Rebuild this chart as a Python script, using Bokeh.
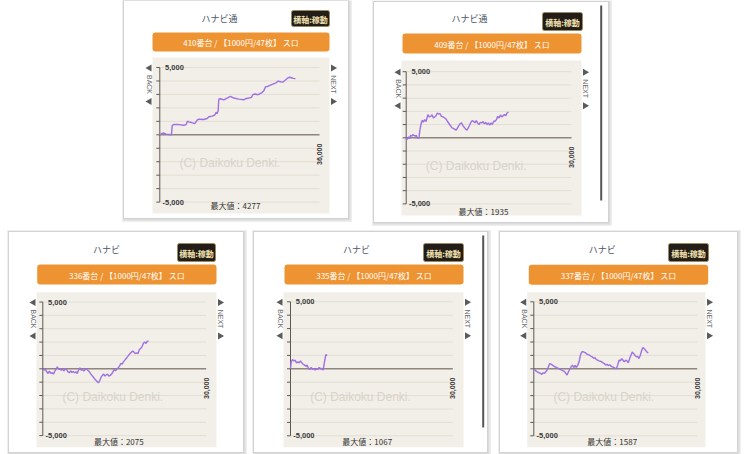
import math
from bokeh.plotting import figure
from bokeh.models import Range1d
from bokeh.core.properties import value
from bokeh.embed import file_html
from bokeh.resources import INLINE

# ---------------- data ----------------
machine_names = ["ハナビ通", "ハナビ通", "ハナビ", "ハナビ", "ハナビ"]
unit_numbers = ["410番台", "409番台", "336番台", "335番台", "337番台"]
rate_label = "【1000円/47枚】 スロ"
max_values = [4277, 1935, 2075, 1067, 1587]
x_max_values = [36000, 30000, 30000, 30000, 30000]
x_max_labels = ["36,000", "30,000", "30,000", "30,000", "30,000"]
grid_values = [-5000, -4000, -3000, -2000, -1000, 0, 1000, 2000, 3000, 4000, 5000]
y_tick_values = [5000, -5000]
y_tick_labels = ["5,000", "-5,000"]
button_label = "横軸:稼動"
watermark_text = "(C) Daikoku Denki."
max_prefix = "最大値："

games_410 = [0, 500, 900, 1430, 2030, 2630, 2800, 3160, 4280, 5410, 5940, 6240, 6540, 7140, 7890, 8420,
             8790, 9920, 10670, 11050, 11800, 12400, 12700, 12930, 13150, 13300, 13680, 14430, 15180, 15930,
             16690, 17810, 18940, 19320, 20070, 20670, 20970, 21420, 22170, 22920, 23450, 23830, 24430, 25330,
             26230, 26680, 27210, 27730, 28190, 28710, 29240, 29690, 30060, 30590]
coins_410 = [0, 100, 130, 50, 25, 0, 700, 760, 760, 710, 760, 1010, 960, 910, 830, 1090,
             1160, 1140, 1210, 1340, 1390, 1470, 1670, 1590, 1770, 2650, 2680, 2600, 2730, 2850,
             2730, 2650, 2600, 2680, 2730, 2780, 2980, 3030, 2980, 3110, 3280, 3560, 3610, 3740,
             3860, 3990, 3940, 3910, 4040, 4190, 4277, 4240, 4190, 4170]

games_409 = [0, 183, 426, 609, 791, 1034, 1217, 1400, 1643, 1826, 2008, 2312, 2495, 2738, 2921, 3103,
             3347, 3590, 3773, 3955, 4199, 4442, 4685, 4929, 5172, 5416, 5659, 5902, 6146, 6389, 6754,
             6998, 7302, 7606, 7971, 8336, 8702, 9067, 9310, 9553, 9797, 10040, 10284, 10527, 10770,
             11014, 11257, 11501, 11744, 11987, 12231, 12474, 12718, 12961, 13204, 13448, 13691, 13935,
             14178, 14421, 14665, 14908, 15152, 15395, 15638, 15882, 16125, 16369, 16612, 16855, 17099,
             17342, 17586, 17829, 18072, 18316, 18559]
coins_409 = [0, -125, 75, -75, 175, 125, 250, 175, 125, 200, -25, -25, 625, 1125, 1325, 1175,
             1375, 1225, 1500, 1750, 1575, 1625, 1750, 1500, 1575, 1675, 1875, 1800, 1825, 1625, 1575,
             1500, 1375, 1175, 950, 750, 675, 575, 750, 925, 1075, 1125, 925, 800, 675,
             575, 750, 950, 1175, 1300, 1250, 1125, 1300, 1125, 1000, 1175, 1125, 1225,
             1050, 1175, 1000, 1125, 950, 1125, 1000, 1250, 1250, 1375, 1625, 1500, 1725,
             1575, 1675, 1750, 1675, 1875, 1935]

games_336 = [0, 243, 486, 728, 971, 1214, 1457, 1700, 1942, 2185, 2428, 2671, 2914, 3156, 3399, 3642,
             3885, 4128, 4370, 4613, 4856, 5099, 5342, 5584, 5827, 6070, 6313, 6556, 6798, 7041, 7284,
             7527, 7770, 8012, 8255, 8498, 8741, 8984, 9226, 9469, 9712, 9955, 10198, 10440, 10683,
             10926, 11169, 11412, 11654, 11897, 12140, 12383, 12626, 12868, 13111, 13354, 13597, 13840,
             14082, 14325, 14568, 14811, 15054, 15296, 15539, 15782, 16025, 16268, 16510, 16753, 16996,
             17239, 17482, 17724, 17967, 18210, 18453, 18696, 18938, 19181, 19424]
coins_336 = [0, -100, -50, -224, -349, -174, -349, -274, -398, -199, -25, 149, -50, 0, -100, -50,
             -149, 0, -50, -224, -299, -149, -274, -199, -299, -224, -349, -100, 75, -100, -50,
             -174, -50, 0, -100, -199, -349, -473, -598, -722, -847, -946, -1046, -896, -647,
             -498, -398, -548, -448, -398, -548, -498, -398, -224, -50, -149, 0, 75,
             199, 398, 349, 523, 647, 772, 896, 1021, 1145, 1245, 1320, 1245, 1145,
             1195, 1145, 1444, 1519, 1643, 1892, 2017, 1892, 2067, 2075]

games_335 = [0, 123, 370, 616, 862, 1109, 1355, 1602, 1848, 2094, 2341, 2587, 2834, 3080, 3326, 3573,
             3819, 4066, 4312, 4558, 4805, 5051, 5298, 5544, 5790, 6037, 6283, 6530, 6776]
coins_335 = [0, 517, 689, 590, 640, 443, 517, 443, 590, 443, 344, 271, 197, 271, 25, -49,
             98, -49, 0, -98, 25, -49, 98, 0, 25, -98, 517, 1067, 1009]

games_337 = [0, 244, 489, 733, 978, 1222, 1466, 1711, 1955, 2200, 2444, 2688, 2933, 3177, 3422, 3666,
             3910, 4155, 4399, 4644, 4888, 5132, 5377, 5621, 5866, 6110, 6354, 6599, 6843, 7088, 7332,
             7576, 7821, 8065, 8310, 8554, 8798, 9043, 9287, 9532, 9776, 10020, 10265, 10509, 10754,
             10998, 11242, 11487, 11731, 11976, 12220, 12464, 12709, 12953, 13198, 13442, 13686, 13931,
             14175, 14420, 14664, 14908, 15153, 15397, 15642, 15886, 16130, 16375, 16619, 16864, 17108,
             17352, 17597, 17841, 18086, 18330, 18574, 18819, 19063, 19308, 19552, 19796, 20041, 20285,
             20530, 20774, 21018]
coins_337 = [0, -98, -197, -246, -295, -344, -418, -295, -344, -221, -98, 148, 394, 344, 271, 197,
             148, 98, 49, 0, -49, -98, -148, -197, -344, -467, -221, -49, 148, 271, 98,
             246, 98, 271, 517, 1009, 1255, 1279, 1230, 1181, 1082, 1058, 1009, 935, 886,
             787, 836, 689, 640, 590, 566, 517, 443, 394, 271, 344, 246, 295, 197, 148,
             98, 49, 0, 271, 640, 590, 763, 640, 517, 640, 590, 443, 763, 1009, 1255,
             1132, 1009, 886, 935, 763, 1009, 1378, 1587, 1501, 1378, 1255, 1181]

series_games = [games_410, games_409, games_336, games_335, games_337]
series_coins = [coins_410, coins_409, coins_336, coins_335, coins_337]

# ---------------- layout (page pixels) ----------------
cards = [
    dict(card=(123, 348, 0, 218), title=(219, 17.5), button=(291, 329, 10, 26), bar=(152, 329, 32, 51),
         area=(152, 329, 57, 213), ax=159.3, xend=319, y0=134.3, y5=67.0, maxlbl=(235, 205), scroll=None),
    dict(card=(373, 608, 1, 222), title=(469, 17.5), button=(542, 582, 12, 30), bar=(402, 581, 33, 53),
         area=(401, 581, 60, 215), ax=405.7, xend=571, y0=137.3, y5=71.2, maxlbl=(483, 210.7),
         scroll=(600.7, 5, 200)),
    dict(card=(8, 243, 231, 452), title=(106, 249.3), button=(177, 215, 243, 261), bar=(36.7, 216, 264, 284),
         area=(36, 216, 291.7, 446.7), ax=42.3, xend=205.7, y0=368.3, y5=301.5, maxlbl=(118.3, 440.7),
         scroll=None),
    dict(card=(253, 487, 231, 452), title=(356, 249.3), button=(423, 463, 243, 261), bar=(284, 463, 264, 284),
         area=(283, 463, 291.7, 446.7), ax=290, xend=452.3, y0=368.3, y5=301.3, maxlbl=(366.7, 440.7),
         scroll=(482.7, 235, 427)),
    dict(card=(499, 737, 231, 452), title=(601.7, 249.3), button=(668, 708, 243, 261),
         bar=(528.3, 707.7, 264.3, 284.3), area=(526.7, 705, 291.7, 446.7), ax=533.3, xend=696.7,
         y0=368.3, y5=301.3, maxlbl=(611.7, 440.7), scroll=None),
]

W, H = 750, 454
X0, X1, Y0, Y1 = 0, W, 0, H

p = figure(width=W, height=H, output_backend="svg", toolbar_location=None,
           x_range=Range1d(X0, X1), y_range=Range1d(Y1, Y0),
           x_axis_location=None, y_axis_location=None, min_border=0,
           background_fill_color="white", border_fill_color="white", outline_line_color=None)
p.grid.visible = False

JP = value("Noto Sans CJK JP")
LAT = value("Liberation Sans")

extra_x, extra_y = {}, {}
for i, c in enumerate(cards):
    g = x_max_values[i] / (c["xend"] - c["ax"])
    k = 5000.0 / (c["y0"] - c["y5"])
    extra_x[f"x{i}"] = Range1d((X0 - c["ax"]) * g, (X1 - c["ax"]) * g)
    extra_y[f"y{i}"] = Range1d((c["y0"] - Y1) * k, (c["y0"] - Y0) * k)
p.extra_x_ranges = extra_x
p.extra_y_ranges = extra_y

for i, c in enumerate(cards):
    xr, yr = f"x{i}", f"y{i}"
    l, r, t, b = c["card"]
    # shadow + card
    p.quad(left=[l - 1.5], right=[r + 3.5], top=[t - 1.5], bottom=[b + 3.5], fill_color="#eeeeee", line_color=None)
    p.quad(left=[l - 0.5], right=[r + 2], top=[t - 0.5], bottom=[b + 2], fill_color="#dcdcdc", line_color=None)
    p.quad(left=[l], right=[r], top=[t], bottom=[b], fill_color="white", line_color="#d2d2d2", line_width=1)
    # title
    p.text(x=[c["title"][0]], y=[c["title"][1]], text=[machine_names[i]], text_font=JP,
           text_font_size=value("9px"), text_color="#4d5566", text_align="center", text_baseline="middle")
    # button
    bl, br, bt, bb = c["button"]
    p.quad(left=[bl], right=[br], top=[bt], bottom=[bb], fill_color="#221d18", line_color="#9a8a60",
           line_width=1, border_radius=2)
    p.text(x=[(bl + br) / 2], y=[(bt + bb) / 2 + 0.5], text=[button_label], text_font=JP,
           text_font_size=value("8px"), text_font_style="bold", text_color="#f2e2b0",
           text_align="center", text_baseline="middle")
    # orange bar
    ol, orr, ot, ob = c["bar"]
    p.quad(left=[ol], right=[orr], top=[ot], bottom=[ob], fill_color="#ee9332", line_color=None,
           border_radius=3)
    p.text(x=[(ol + orr) / 2], y=[(ot + ob) / 2 + 0.5], text=[unit_numbers[i] + " / " + rate_label],
           text_font=JP, text_font_size=value("8px"), text_color="white",
           text_align="center", text_baseline="middle")
    # plot area
    al, ar, at, ab = c["area"]
    p.quad(left=[al], right=[ar], top=[at], bottom=[ab], fill_color="#f2efe8", line_color=None)
    # grid lines
    xm = x_max_values[i]
    p.segment(x0=[0] * len(grid_values), x1=[xm] * len(grid_values), y0=grid_values, y1=grid_values,
              line_color="#e3ded4", line_width=1, x_range_name=xr, y_range_name=yr)
    # zero line
    p.segment(x0=[0], x1=[xm], y0=[0], y1=[0], line_color="#8f877f", line_width=1.6,
              x_range_name=xr, y_range_name=yr)
    # axis & ticks
    p.segment(x0=[0], x1=[0], y0=[-5000], y1=[5000], line_color="#5e5955", line_width=1,
              x_range_name=xr, y_range_name=yr)
    p.ray(x=[0] * len(grid_values), y=grid_values, length=3.5, length_units="screen", angle=math.pi,
          line_color="#5e5955", line_width=1, x_range_name=xr, y_range_name=yr)
    # watermark
    p.text(x=[c["ax"] + 70], y=[c["y0"] + 28], text=[watermark_text], text_font=LAT,
           text_font_size=value("12px"), text_color="#d8d3cb", text_align="center", text_baseline="middle")
    # data line
    p.line(x=series_games[i], y=series_coins[i], line_color="#9f70e2", line_width=1.4,
           x_range_name=xr, y_range_name=yr)
    # y tick labels
    p.text(x=[c["ax"] + 24] * 2, y=y_tick_values, text=y_tick_labels, text_font=LAT,
           text_font_size=value("7.5px"), text_font_style="bold", text_color="#3a3a3a",
           text_align="right", text_baseline="middle", y_range_name=yr)
    # x max label (rotated)
    p.text(x=[xm], y=[c["y0"] + 19.5], text=[x_max_labels[i]], text_font=LAT,
           text_font_size=value("7px"), text_font_style="bold", text_color="#3a3a3a",
           text_align="center", text_baseline="middle", angle=math.pi / 2, x_range_name=xr)
    # max value label
    p.text(x=[c["maxlbl"][0]], y=[c["maxlbl"][1]], text=[max_prefix + str(max_values[i])], text_font=JP,
           text_font_size=value("8px"), text_color="#333333", text_align="center", text_baseline="middle")
    # BACK / NEXT navigation
    lx, rx = al - 3, ar + 3.5
    p.scatter(x=[lx, lx], y=[c["y5"] + 0.5, c["y5"] + 34], marker="triangle", size=7, angle=math.pi / 2,
              fill_color="#5a5a5a", line_color=None)
    p.scatter(x=[rx, rx], y=[c["y5"] + 0.5, c["y5"] + 34], marker="triangle", size=7, angle=-math.pi / 2,
              fill_color="#5a5a5a", line_color=None)
    p.text(x=[lx], y=[c["y5"] + 17], text=["BACK"], text_font=LAT, text_font_size=value("7px"),
           text_color="#666666", text_align="center", text_baseline="middle", angle=-math.pi / 2)
    p.text(x=[rx], y=[c["y5"] + 17], text=["NEXT"], text_font=LAT, text_font_size=value("7px"),
           text_color="#666666", text_align="center", text_baseline="middle", angle=-math.pi / 2)
    # scrollbar line
    if c["scroll"] is not None:
        sx, sy0, sy1 = c["scroll"]
        p.segment(x0=[sx], x1=[sx], y0=[sy0], y1=[sy1], line_color="#555555", line_width=2)

open("out.html", "w").write(file_html(p, INLINE))
